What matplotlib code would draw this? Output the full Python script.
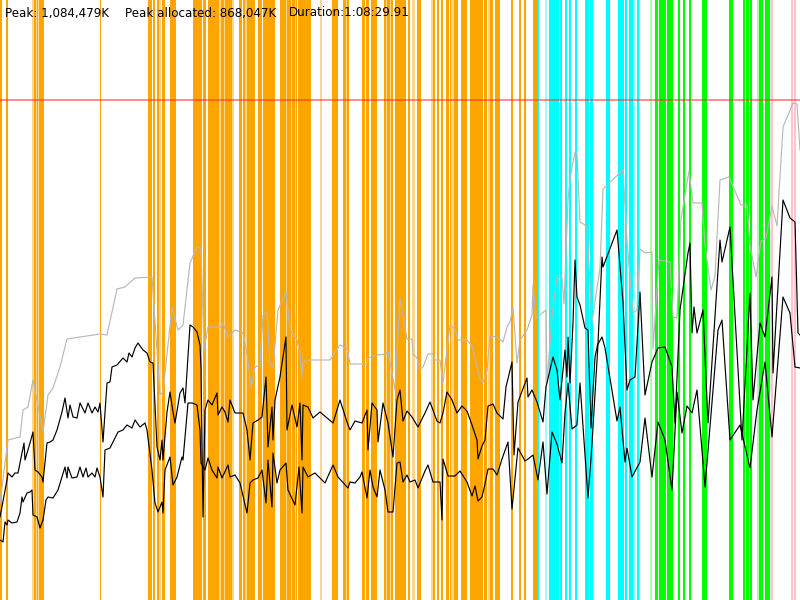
import matplotlib
matplotlib.use("Agg")
import matplotlib.pyplot as plt

# ---- data (x = time position 0..800 across the 1:08:29.91 run, y = memory level, peak = 500) ----
peak_level = 500

gray_x = [0, 8, 20, 23, 28, 33, 43, 48, 53, 60, 67, 100, 107, 117, 125, 135, 152, 160, 163, 172, 178, 183, 190, 197, 201, 204, 208, 220, 223, 228, 235, 243, 248, 251, 255, 260, 263, 267, 270, 273, 278, 286, 290, 297, 300, 302, 303, 308, 330, 340, 347, 350, 367, 368, 377, 385, 388, 392, 395, 400, 407, 412, 413, 417, 420, 423, 428, 433, 435, 440, 443, 450, 455, 458, 467, 472, 480, 483, 487, 490, 497, 503, 507, 510, 513, 517, 520, 527, 532, 533, 536, 546, 547, 552, 557, 562, 564, 568, 570, 575, 577, 580, 587, 592, 600, 603, 623, 627, 633, 637, 640, 645, 652, 653, 659, 670, 673, 677, 681, 689, 693, 702, 705, 711, 715, 720, 729, 741, 747, 750, 756, 761, 766, 772, 777, 783, 793, 797, 800]
gray_y = [97, 160, 163, 190, 193, 220, 168, 205, 212, 233, 261, 266, 265, 311, 313, 322, 323, 205, 208, 293, 270, 275, 337, 353, 352, 250, 273, 273, 277, 263, 270, 267, 240, 213, 233, 235, 285, 288, 237, 232, 290, 308, 270, 260, 247, 223, 238, 240, 240, 255, 252, 236, 236, 242, 245, 246, 248, 227, 210, 302, 261, 261, 246, 242, 231, 233, 246, 246, 240, 240, 217, 275, 271, 260, 260, 254, 221, 218, 229, 264, 263, 258, 273, 278, 293, 237, 260, 270, 285, 315, 282, 290, 217, 283, 323, 323, 296, 400, 422, 448, 446, 378, 374, 278, 332, 411, 430, 359, 287, 290, 351, 347, 348, 251, 340, 338, 283, 282, 381, 429, 397, 397, 355, 310, 324, 420, 423, 395, 395, 355, 323, 359, 362, 394, 374, 473, 497, 496, 450]

upper_x = [0, 7, 8, 12, 15, 18, 22, 24, 25, 30, 33, 35, 38, 42, 43, 47, 50, 53, 57, 62, 65, 68, 70, 73, 77, 80, 85, 88, 92, 95, 98, 100, 103, 107, 110, 112, 117, 123, 127, 129, 132, 135, 138, 143, 147, 150, 153, 157, 160, 162, 163, 167, 170, 173, 175, 180, 183, 185, 190, 193, 197, 200, 201, 203, 205, 208, 212, 217, 218, 222, 225, 228, 230, 235, 243, 247, 250, 253, 258, 262, 266, 268, 272, 273, 275, 280, 286, 287, 292, 297, 300, 302, 303, 308, 313, 320, 333, 340, 347, 350, 355, 362, 367, 368, 372, 377, 378, 383, 388, 393, 397, 400, 403, 407, 412, 418, 425, 430, 437, 440, 443, 447, 452, 457, 462, 467, 472, 477, 478, 482, 485, 488, 493, 497, 503, 506, 512, 514, 518, 527, 528, 532, 537, 543, 546, 553, 557, 560, 565, 567, 568, 570, 573, 575, 577, 580, 585, 588, 591, 595, 598, 602, 603, 617, 623, 627, 630, 635, 640, 645, 652, 658, 665, 672, 675, 680, 688, 690, 692, 694, 697, 703, 708, 720, 722, 730, 742, 750, 753, 760, 765, 772, 773, 783, 790, 795, 798, 800]
upper_y = [83, 120, 127, 123, 127, 127, 147, 157, 140, 157, 168, 130, 128, 123, 118, 157, 158, 160, 170, 188, 202, 182, 195, 183, 182, 197, 187, 197, 187, 193, 188, 197, 158, 217, 218, 233, 235, 242, 238, 247, 243, 252, 257, 250, 247, 238, 237, 153, 140, 160, 140, 188, 208, 188, 177, 207, 212, 197, 275, 273, 268, 255, 232, 83, 190, 200, 195, 207, 185, 193, 188, 178, 200, 187, 187, 170, 140, 177, 180, 183, 223, 153, 193, 160, 200, 223, 263, 170, 195, 173, 197, 140, 195, 193, 182, 188, 177, 200, 178, 170, 179, 177, 190, 150, 197, 190, 158, 197, 177, 143, 200, 210, 179, 189, 183, 173, 187, 198, 179, 177, 187, 208, 200, 187, 194, 189, 175, 160, 141, 154, 160, 194, 196, 187, 181, 213, 238, 145, 198, 222, 203, 210, 198, 178, 213, 243, 230, 200, 250, 223, 263, 217, 277, 340, 303, 295, 272, 270, 172, 243, 257, 343, 333, 370, 298, 210, 220, 223, 308, 205, 238, 252, 253, 233, 177, 290, 347, 357, 267, 293, 267, 290, 177, 360, 338, 373, 160, 307, 200, 277, 263, 323, 227, 400, 382, 378, 267, 265]

lower_x = [0, 3, 5, 7, 8, 12, 17, 20, 22, 23, 27, 30, 32, 33, 37, 40, 43, 46, 48, 53, 58, 62, 65, 67, 68, 72, 77, 80, 83, 86, 88, 92, 95, 97, 100, 103, 105, 110, 115, 118, 123, 127, 132, 135, 140, 145, 147, 152, 155, 158, 162, 163, 165, 170, 173, 177, 182, 183, 188, 192, 197, 200, 201, 205, 208, 212, 217, 218, 222, 228, 230, 235, 240, 247, 250, 253, 258, 262, 266, 268, 272, 273, 277, 280, 286, 288, 295, 299, 302, 303, 308, 315, 320, 325, 333, 338, 348, 350, 355, 360, 362, 367, 370, 373, 377, 380, 385, 388, 393, 397, 400, 403, 407, 410, 415, 418, 425, 428, 433, 440, 442, 443, 448, 455, 460, 467, 472, 475, 478, 482, 485, 488, 493, 497, 502, 508, 512, 518, 525, 528, 533, 537, 538, 543, 547, 552, 557, 562, 565, 568, 572, 577, 580, 588, 592, 598, 602, 605, 617, 620, 625, 627, 632, 640, 645, 652, 658, 665, 672, 677, 682, 687, 692, 697, 705, 718, 722, 730, 740, 750, 757, 765, 772, 783, 790, 795, 800]
lower_y = [60, 58, 78, 75, 80, 77, 78, 87, 103, 98, 107, 108, 110, 85, 83, 72, 80, 100, 103, 102, 110, 123, 133, 122, 133, 122, 123, 133, 123, 132, 123, 127, 123, 132, 123, 103, 150, 152, 162, 168, 170, 175, 172, 180, 173, 177, 170, 130, 97, 88, 98, 87, 130, 143, 115, 123, 143, 140, 197, 197, 195, 170, 137, 130, 142, 130, 122, 133, 122, 135, 123, 125, 117, 87, 117, 120, 122, 130, 97, 140, 93, 147, 117, 130, 137, 110, 95, 133, 87, 133, 123, 127, 122, 117, 135, 123, 112, 118, 117, 123, 128, 102, 130, 113, 103, 130, 110, 88, 88, 137, 138, 118, 125, 118, 120, 112, 129, 135, 118, 118, 80, 141, 124, 124, 129, 118, 104, 114, 99, 103, 116, 131, 131, 125, 141, 158, 91, 152, 139, 141, 145, 125, 120, 158, 106, 168, 156, 137, 187, 217, 171, 175, 217, 102, 156, 256, 263, 252, 179, 193, 138, 152, 123, 138, 182, 123, 178, 160, 110, 208, 167, 194, 187, 210, 113, 270, 280, 160, 175, 132, 190, 238, 163, 303, 287, 233, 232]

# event bands: (start, end, kind)
bands = [
    (0, 2, "O"), (6, 7.5, "O"), (32, 33.5, "LO"), (33.5, 36, "O"), (36, 37, "LO"), (37, 38, "O"),
    (38, 39, "LO"), (39, 44, "O"), (100, 101, "O"), (148, 152, "O"), (153, 155, "O"),
    (157, 158.5, "O"), (159, 160.5, "LO"), (162, 164.5, "O"), (170, 176, "O"), (193, 200, "O"),
    (200, 201.5, "O"), (203, 205.5, "O"), (208, 219, "O"), (219, 220.5, "LO"), (221, 224, "O"),
    (224, 225, "LO"), (225, 232, "O"), (232, 234, "LO"), (239, 242, "O"), (243, 245, "O"),
    (245, 246.5, "LO"), (246.5, 255, "O"), (258, 262, "O"), (263, 275, "O"), (280, 286, "O"),
    (286, 287, "LO"), (287, 291, "O"), (291, 292, "LO"), (292, 295, "O"), (295, 296, "LO"),
    (296, 297, "O"), (298, 311, "O"), (320, 322, "LO"), (332, 338, "O"), (343, 346, "O"),
    (346, 347, "LO"), (347, 349, "O"), (362, 365, "O"), (366, 369, "O"), (371, 377, "O"),
    (384, 386, "O"), (386, 387, "LO"), (387, 390, "O"), (390, 391, "LO"), (391, 393, "O"),
    (395, 406, "O"), (408, 409.5, "O"), (412, 415, "LO"), (417, 421, "O"), (431, 433, "LO"),
    (433, 435, "O"), (437, 439, "O"), (441, 443, "O"), (446, 449, "O"), (450, 451, "O"),
    (451, 454, "LO"), (454, 458, "O"), (461, 467, "O"), (470, 483, "O"), (484, 487, "O"),
    (488, 490, "LO"), (490, 493, "O"), (495, 500, "O"), (511, 513, "O"), (519, 521, "O"),
    (524, 526, "O"), (533, 537, "O"),
    (537, 538.5, "C"), (545, 547, "LC"), (549, 559, "C"), (560, 561.5, "C"), (565, 567, "C"),
    (569, 571, "C"), (575, 577, "C"), (585, 589, "C"), (590, 593, "C"), (606, 610, "C"),
    (618, 624, "C"), (625, 626.5, "C"), (629, 633, "C"), (633, 635, "LC"), (637, 638.5, "C"),
    (638.5, 640, "LG"), (650, 651.5, "LG"), (655, 658.2, "G"), (658.6, 661.8, "G"), (662.2, 665.5, "G"),
    (667, 671, "G"), (671.4, 673, "G"), (678, 680, "G"), (683, 685, "G"), (689, 690.5, "G"),
    (702, 707, "G"), (729, 733, "G"), (743, 745, "G"), (746, 749, "G"), (750, 752, "G"),
    (757, 758.5, "LG"), (759, 763, "G"), (765, 770, "G"),
    (771, 773, "P"), (791, 793, "P"), (794, 795.5, "P"),
]
band_colors = {"O": "#FFA500", "LO": "#FFD590", "C": "#00FFFF", "LC": "#9FFFFF",
               "G": "#00FF00", "LG": "#A8FFA8", "P": "#FFC4CC"}

header = ["Peak: 1,084,479K", "Peak allocated: 868,047K", "Duration:1:08:29.91"]
header_x = [5, 125, 289]

# ---- drawing ----
fig = plt.figure(figsize=(8, 6), dpi=100)
ax = fig.add_axes([0, 0, 1, 1])
ax.set_xlim(0, 800)
ax.set_ylim(0, 600)
ax.axis("off")

for x0, x1, k in bands:
    ax.axvspan(x0, x1, color=band_colors[k], lw=0, zorder=1)

ax.axhline(peak_level, color="#FF3030", alpha=0.6, lw=1.3, zorder=3)

ax.plot(gray_x, gray_y, color="#B8B8B8", lw=0.85, zorder=4)
ax.plot(upper_x, upper_y, color="black", lw=0.85, zorder=5)
ax.plot(lower_x, lower_y, color="black", lw=0.85, zorder=5)

for s, x in zip(header, header_x):
    fig.text(x / 800, 1 - 13 / 600, s, fontsize=8.6, family="DejaVu Sans",
             va="center", ha="left", color="black", zorder=10)

fig.savefig("out.png", dpi=100)
